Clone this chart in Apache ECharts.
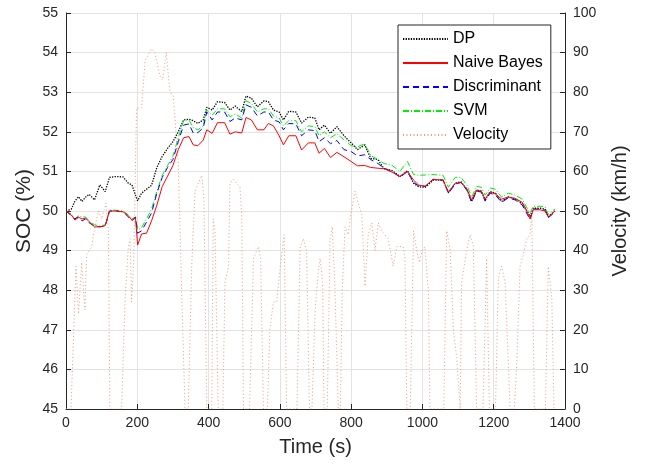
<!DOCTYPE html>
<html>
<head>
<meta charset="utf-8">
<script src="https://cdn.jsdelivr.net/npm/echarts@6/dist/echarts.min.js"></script>
<style>
html,body{margin:0;padding:0;background:#fff;}
#chart{width:645px;height:466px;}
</style>
</head>
<body>
<div id="chart"></div>
<script>
// Shared time stamps for SOC curves (s)
var socTime = [0,15,25,35,45,55,65,80,95,110,122,140,160,175,185,195,201,212,226,240,255,270,285,300,315,330,345,357,370,385,395,410,425,445,460,475,493,505,520,537,555,568,582,598,610,625,645,661,680,698,710,725,742,760,780,800,818,838,855,875,892,915,937,958,975,990,1008,1030,1058,1073,1092,1108,1125,1138,1152,1165,1176,1190,1205,1222,1241,1260,1280,1295,1302,1311,1330,1344,1353,1372];

var socDP = [50.0,50.05,50.25,50.36,50.24,50.35,50.42,50.28,50.66,50.49,50.85,50.87,50.86,50.7,50.66,50.4,50.26,50.45,50.55,50.65,51.1,51.38,51.58,51.75,52.0,52.3,52.32,52.28,52.21,52.3,52.62,52.55,52.76,52.74,52.55,52.65,52.51,52.9,52.85,52.63,52.78,52.76,52.55,52.5,52.3,52.52,52.5,52.22,52.37,52.35,52.05,52.17,51.96,52.13,51.9,51.72,51.55,51.67,51.33,51.3,51.07,51.02,50.87,51.02,50.7,50.61,50.6,50.78,50.78,50.46,50.7,50.74,50.55,50.24,50.53,50.5,50.28,50.49,50.45,50.24,50.36,50.3,50.19,49.98,49.86,50.07,50.07,50.05,49.86,50.0];

var socNB = [50.0,49.9,49.77,49.84,49.8,49.82,49.73,49.6,49.6,49.63,50.0,50.0,49.98,49.88,49.77,49.82,49.14,49.42,49.44,49.75,50.15,50.62,50.88,51.15,51.55,51.85,51.88,51.67,51.65,51.79,52.05,51.96,52.23,52.23,51.94,52.0,51.97,52.36,52.3,52.05,52.05,52.21,52.15,51.9,51.67,51.9,51.9,51.54,51.72,51.72,51.46,51.58,51.35,51.48,51.37,51.25,51.14,51.15,51.1,51.08,51.07,50.98,50.87,51.0,50.78,50.65,50.63,50.8,50.78,50.48,50.7,50.72,50.55,50.28,50.53,50.5,50.3,50.48,50.43,50.3,50.35,50.32,50.22,49.95,49.8,50.03,50.03,50.0,49.85,50.0];

var socDisc = [50.0,49.88,49.8,49.85,49.75,49.8,49.7,49.62,49.6,49.62,50.0,50.0,49.98,49.85,49.75,49.85,49.44,49.5,49.72,49.95,50.45,50.85,51.1,51.3,51.75,52.17,52.2,51.97,51.98,52.1,52.5,52.3,52.5,52.5,52.26,52.35,52.3,52.68,52.62,52.4,52.5,52.5,52.3,52.25,52.05,52.21,52.2,51.9,52.05,52.03,51.75,51.85,51.7,51.78,51.55,51.5,51.39,51.42,51.3,51.2,51.08,51.0,50.85,51.0,50.72,50.63,50.62,50.8,50.78,50.45,50.68,50.72,50.52,50.22,50.5,50.48,50.25,50.45,50.4,50.22,50.33,50.28,50.15,49.9,49.78,50.05,50.05,50.02,49.83,49.97];

var socSVM = [50.0,49.92,49.8,49.88,49.85,49.85,49.75,49.65,49.62,49.65,50.02,50.02,50.0,49.9,49.8,49.85,49.52,49.58,49.8,50.05,50.5,50.9,51.15,51.38,51.85,52.28,52.3,52.1,52.05,52.15,52.55,52.42,52.58,52.58,52.38,52.45,52.35,52.78,52.72,52.5,52.58,52.58,52.4,52.35,52.15,52.28,52.28,52.0,52.15,52.13,51.9,52.0,51.85,51.95,51.8,51.65,51.62,51.7,51.4,51.3,51.2,51.15,51.0,51.25,50.92,50.9,50.91,50.92,50.9,50.6,50.85,50.85,50.65,50.35,50.62,50.6,50.4,50.58,50.55,50.35,50.45,50.4,50.3,50.05,49.95,50.12,50.12,50.1,49.92,50.05];

// Velocity profile (km/h)
var velTime = [0,14,28,35,44,53,58,72,81,91,100,112,119,123,156,166,175,180,184,190,198,212,222,240,249,264,271,281,292,301,315,325,334,343,353,362,371,381,387,395,409,413,418,427,440,446,456,460,470,488,493,498,515,526,540,546,554,565,572,582,591,600,612,619,648,657,666,675,683,690,699,708,713,720,724,733,741,747,754,764,770,775,783,792,799,811,820,830,839,848,858,867,876,886,904,918,928,946,951,956,966,975,984,992,999,1007,1017,1021,1060,1068,1078,1087,1096,1106,1110,1124,1134,1143,1152,1170,1180,1188,1205,1213,1222,1232,1246,1258,1265,1274,1283,1293,1302,1307,1314,1345,1353,1363,1369];
var velocity = [0,0,36,24,37,25,39,41,46,50,48,52,45,0,0,28,41,43,27,37,76,76,88,91,90,84,83,90,80,79,62,28,0,0,37,55,57,59,53,0,0,48,45,0,0,32,36,57,58,56,49,0,0,38,41,38,0,0,20,27,27,35,44,0,0,41,43,40,0,0,25,35,38,32,0,0,43,46,32,0,0,30,46,44,49,55,52,49,31,44,47,40,47,45,43,36,41,41,38,0,0,45,40,37,40,41,29,0,0,45,40,20,13,0,32,40,44,41,0,0,38,0,0,33,36,32,0,0,12,36,39,43,44,49,0,0,36,28,0];

// Axis ticks
var xTicks = {min:0, max:1400, interval:200};
var socTicks = {min:45, max:55, interval:1};
var velTicks = {min:0, max:100, interval:10};

function pairs(t, v){ return t.map(function(x,i){ return [x, v[i]]; }); }

var font = 'Liberation Sans, Arial, Helvetica, sans-serif';
var axisColor = '#262626';
var gridColor = '#e3e3e3';
var velColor = '#EA8A62';

var chart = echarts.init(document.getElementById('chart'), null, {renderer:'canvas'});
chart.setOption({
  animation:false,
  backgroundColor:'#ffffff',
  grid:{left:66, right:80, top:13, bottom:57, containLabel:false},
  legend:{
    orient:'vertical', left:398, top:25,
    backgroundColor:'#ffffff', borderColor:axisColor, borderWidth:1,
    padding:[6,8,6,4], itemGap:8, itemWidth:45, itemHeight:14,
    itemStyle:{opacity:0},
    textStyle:{fontFamily:font, fontSize:16, color:'#000'},
    data:['DP','Naive Bayes','Discriminant','SVM','Velocity']
  },
  xAxis:{
    type:'value', min:xTicks.min, max:xTicks.max, interval:xTicks.interval,
    name:'Time (s)', nameLocation:'middle', nameGap:28,
    nameTextStyle:{fontFamily:font, fontSize:20, color:axisColor},
    axisLine:{show:true, lineStyle:{color:axisColor, width:1}},
    axisTick:{show:true, inside:true, length:5, lineStyle:{color:axisColor}},
    axisLabel:{fontFamily:font, fontSize:14, color:axisColor, margin:7, formatter:function(v){return String(v);}},
    splitLine:{show:true, lineStyle:{color:gridColor, width:1}}
  },
  yAxis:[{
    type:'value', position:'left', min:socTicks.min, max:socTicks.max, interval:socTicks.interval,
    name:'SOC (%)', nameLocation:'middle', nameGap:31, nameRotate:90, nameMoveOverlap:false,
    nameTextStyle:{fontFamily:font, fontSize:21, color:axisColor},
    axisLine:{show:true, lineStyle:{color:axisColor, width:1}},
    axisTick:{show:true, inside:true, length:5, lineStyle:{color:axisColor}},
    axisLabel:{fontFamily:font, fontSize:14, color:axisColor, margin:8, formatter:function(v){return String(v);}},
    splitLine:{show:true, lineStyle:{color:gridColor, width:1}}
  },{
    type:'value', position:'right', min:velTicks.min, max:velTicks.max, interval:velTicks.interval,
    name:'Velocity (km/h)', nameLocation:'middle', nameGap:45, nameRotate:90, nameMoveOverlap:false,
    nameTextStyle:{fontFamily:font, fontSize:20, color:axisColor},
    axisLine:{show:true, lineStyle:{color:axisColor, width:1}},
    axisTick:{show:true, inside:true, length:5, lineStyle:{color:axisColor}},
    axisLabel:{fontFamily:font, fontSize:14, color:axisColor, margin:8, formatter:function(v){return String(v);}},
    splitLine:{show:false}
  }],
  series:[
    {name:'Velocity', type:'line', yAxisIndex:1, data:pairs(velTime, velocity), symbol:'none', z:1,
     lineStyle:{color:velColor, width:1, type:[1,2.5], opacity:0.85}, itemStyle:{color:velColor}},
    {name:'DP', type:'line', yAxisIndex:0, data:pairs(socTime, socDP), symbol:'none', z:2,
     lineStyle:{color:'#000000', width:1.3, type:[1.3,1.3]}, itemStyle:{color:'#000000'}},
    {name:'SVM', type:'line', yAxisIndex:0, data:pairs(socTime, socSVM), symbol:'none', z:3,
     lineStyle:{color:'#00ee00', width:1, type:[6,2,1,2]}, itemStyle:{color:'#00ee00'}},
    {name:'Discriminant', type:'line', yAxisIndex:0, data:pairs(socTime, socDisc), symbol:'none', z:4,
     lineStyle:{color:'#0000ff', width:1, type:[6,4]}, itemStyle:{color:'#0000ff'}},
    {name:'Naive Bayes', type:'line', yAxisIndex:0, data:pairs(socTime, socNB), symbol:'none', z:5,
     lineStyle:{color:'#ff0000', width:1, type:'solid'}, itemStyle:{color:'#ff0000'}}
  ]
});
</script>
</body>
</html>
